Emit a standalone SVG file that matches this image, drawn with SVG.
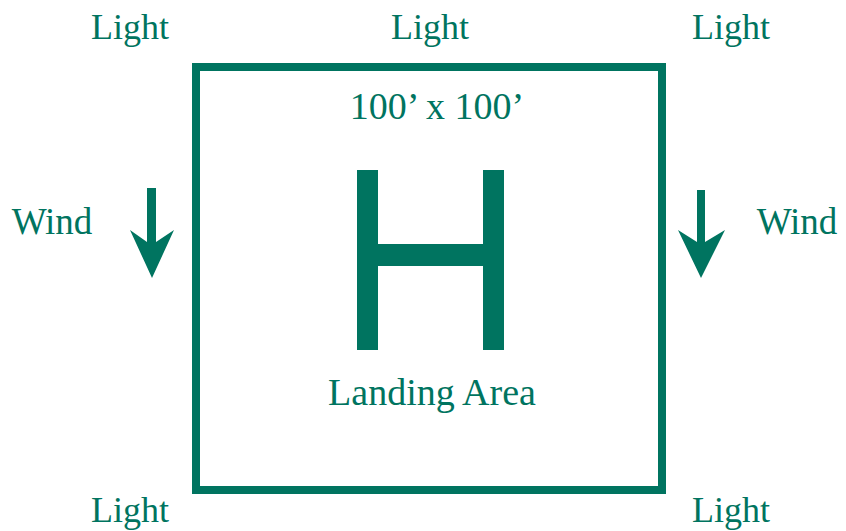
<svg xmlns="http://www.w3.org/2000/svg" width="846" height="531" viewBox="0 0 846 531">
<style>
text{font-family:"Liberation Serif","Times New Roman",serif;fill:#007460;text-anchor:middle}
.l{font-size:36px}
.w{font-size:37px}
.b{font-size:38px}
.g{fill:#007460}
</style>
<rect width="846" height="531" fill="#fff"/>
<g id="landing-area">
<rect x="196" y="67" width="466" height="423" fill="none" stroke="#007460" stroke-width="8"/>
<path class="g" d="M357 170H378V244H483V170H504V350H483V266H378V350H357Z"/>
<text x="437" y="119" class="b">100’ x 100’</text>
<text x="432" y="405" class="b">Landing Area</text>
</g>
<g id="lights">
<text x="130" y="39" class="l">Light</text>
<text x="430" y="39" class="l">Light</text>
<text x="731" y="39" class="l">Light</text>
<text x="130" y="522" class="l">Light</text>
<text x="731" y="522" class="l">Light</text>
</g>
<g id="wind-left">
<text x="52" y="234" class="w">Wind</text>
</g>
<g id="wind-right">
<text x="797" y="234" class="w">Wind</text>
</g>
<g id="connectors">
<path class="g" d="M147 188H156V242L174 230L152 278L130 230L147 242Z"/>
<path class="g" d="M697 190H705V242L725 230L701 278L678 230L697 242Z"/>
</g>
</svg>
